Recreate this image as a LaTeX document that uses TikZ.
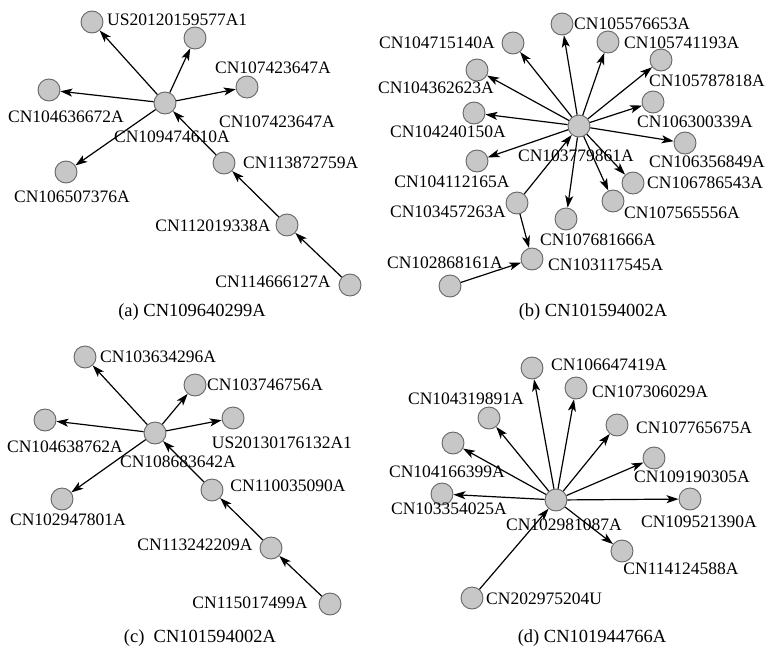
\documentclass[tikz,border=0pt]{standalone}
\usepackage{fontspec}
\setmainfont{Liberation Serif}
\usetikzlibrary{arrows.meta}
\newcommand\lblfont{\fontsize{17.5}{20}\selectfont}
\newcommand\capfont{\fontsize{18.5}{21}\selectfont}
\begin{document}
\begin{tikzpicture}[x=1pt,y=-1pt,
  dot/.style={circle, draw=black!60, fill=black!22, minimum size=22pt, inner sep=0pt, line width=0.9pt},
  lbl/.style={font=\lblfont, inner sep=0pt},
  captxt/.style={font=\capfont, inner sep=0pt},
  edge/.style={-{Stealth[length=12pt,width=8pt,inset=3pt]}, line width=1.2pt}]
\useasboundingbox (0,0) rectangle (768,648);

% ---------- (a) ----------
\node[dot] (ac) at (165,103) {};
\node[dot] (a1) at (92,22) {};
\node[dot] (a2) at (195,38) {};
\node[dot] (a3) at (247,87) {};
\node[dot] (a4) at (49,90) {};
\node[dot] (a5) at (66,172) {};
\node[dot] (a6) at (224,163) {};
\node[dot] (a7) at (287,225) {};
\node[dot] (a8) at (350,285) {};
\draw[edge] (ac) -- (a1);
\draw[edge] (ac) -- (a2);
\draw[edge] (ac) -- (a3);
\draw[edge] (ac) -- (a4);
\draw[edge] (ac) -- (a5);
\draw[edge] (a6) -- (ac);
\draw[edge] (a7) -- (a6);
\draw[edge] (a8) -- (a7);
\node[lbl, anchor=west] (la1) at (107,20) {US20120159577A1};
\node[lbl] (la2) at (273,68) {CN107423647A};
\node[lbl] (la3) at (277,122) {CN107423647A};
\node[lbl] (lac) at (172,137) {CN109474610A};
\node[lbl] (la4) at (66,117) {CN104636672A};
\node[lbl] (la5) at (72,197) {CN106507376A};
\node[lbl, anchor=west] (la6) at (243,163) {CN113872759A};
\node[lbl] (la7) at (213,226) {CN112019338A};
\node[lbl] (la8) at (273,282) {CN114666127A};
\node[captxt] (capa) at (192,312) {(a) CN109640299A};

% ---------- (b) ----------
\node[dot] (bc) at (579,126) {};
\node[dot] (b1) at (562,24) {};
\node[dot] (b2) at (513,43) {};
\node[dot] (b3) at (608,42) {};
\node[dot] (b4) at (661,60) {};
\node[dot] (b5) at (477,70) {};
\node[dot] (b6) at (653,102) {};
\node[dot] (b7) at (474,113) {};
\node[dot] (b8) at (685,143) {};
\node[dot] (b9) at (477,161) {};
\node[dot] (b10) at (633,183) {};
\node[dot] (b11) at (613,201) {};
\node[dot] (b12) at (517,203) {};
\node[dot] (b13) at (566,219) {};
\node[dot] (b14) at (532,259) {};
\node[dot] (b15) at (450,286) {};
\foreach \i in {1,...,11,13} {\draw[edge] (bc) -- (b\i);}
\draw[edge] (b12) -- (bc);
\draw[edge] (b12) -- (b14);
\draw[edge] (b15) -- (b14);
\node[lbl, anchor=west] (lb1) at (574,24) {CN105576653A};
\node[lbl] (lb2) at (437,43) {CN104715140A};
\node[lbl, anchor=west] (lb3) at (624,43) {CN105741193A};
\node[lbl] (lb4) at (707,81) {CN105787818A};
\node[lbl] (lb5) at (436,88) {CN104362623A};
\node[lbl] (lb6) at (695,122) {CN106300339A};
\node[lbl] (lb7) at (448,132) {CN104240150A};
\node[lbl] (lbc) at (576,156) {CN103779861A};
\node[lbl] (lb8) at (707,162) {CN106356849A};
\node[lbl] (lb9) at (452,182) {CN104112165A};
\node[lbl, anchor=west] (lb10) at (647,183) {CN106786543A};
\node[lbl] (lb11) at (682,213) {CN107565556A};
\node[lbl] (lb12) at (448,212) {CN103457263A};
\node[lbl] (lb13) at (598,240) {CN107681666A};
\node[lbl, anchor=west] (lb14) at (548,265) {CN103117545A};
\node[lbl] (lb15) at (445,263) {CN102868161A};
\node[captxt] (capb) at (593,312) {(b) CN101594002A};

% ---------- (c) ----------
\node[dot] (cc) at (155,433) {};
\node[dot] (c1) at (85,357) {};
\node[dot] (c2) at (195,385) {};
\node[dot] (c3) at (45,420) {};
\node[dot] (c4) at (233,418) {};
\node[dot] (c5) at (62,499) {};
\node[dot] (c6) at (212,490) {};
\node[dot] (c7) at (271,548) {};
\node[dot] (c8) at (330,604) {};
\foreach \i in {1,...,5} {\draw[edge] (cc) -- (c\i);}
\draw[edge] (c6) -- (cc);
\draw[edge] (c7) -- (c6);
\draw[edge] (c8) -- (c7);
\node[lbl, anchor=west] (lc1) at (100,357) {CN103634296A};
\node[lbl, anchor=west] (lc2) at (207,385) {CN103746756A};
\node[lbl] (lc3) at (65,447) {CN104638762A};
\node[lbl] (lc4) at (282,443) {US20130176132A1};
\node[lbl] (lcc) at (178,462) {CN108683642A};
\node[lbl] (lc5) at (68,520) {CN102947801A};
\node[lbl] (lc6) at (288,486) {CN110035090A};
\node[lbl] (lc7) at (195,545) {CN113242209A};
\node[lbl] (lc8) at (250,603) {CN115017499A};
\node[captxt] (capc) at (200,638) {(c)\ \ CN101594002A};

% ---------- (d) ----------
\node[dot] (dc) at (556,500) {};
\node[dot] (d1) at (532,368) {};
\node[dot] (d2) at (576,388) {};
\node[dot] (d3) at (489,418) {};
\node[dot] (d4) at (617,425) {};
\node[dot] (d5) at (453,443) {};
\node[dot] (d6) at (654,458) {};
\node[dot] (d7) at (442,494) {};
\node[dot] (d8) at (690,499) {};
\node[dot] (d9) at (622,551) {};
\node[dot] (d10) at (472,598) {};
\foreach \i in {1,...,9} {\draw[edge] (dc) -- (d\i);}
\draw[edge] (d10) -- (dc);
\node[lbl, anchor=west] (ld1) at (551,365) {CN106647419A};
\node[lbl, anchor=west] (ld2) at (592,392) {CN107306029A};
\node[lbl] (ld3) at (466,399) {CN104319891A};
\node[lbl, anchor=west] (ld4) at (636,428) {CN107765675A};
\node[lbl] (ld5) at (447,472) {CN104166399A};
\node[lbl] (ld6) at (692,477) {CN109190305A};
\node[lbl] (ld7) at (449,509) {CN103354025A};
\node[lbl] (ldc) at (564,525) {CN102981087A};
\node[lbl] (ld8) at (699,522) {CN109521390A};
\node[lbl] (ld9) at (681,569) {CN114124588A};
\node[lbl, anchor=west] (ld10) at (486,599) {CN202975204U};
\node[captxt] (capd) at (592,638) {(d) CN101944766A};
\end{tikzpicture}
\end{document}
